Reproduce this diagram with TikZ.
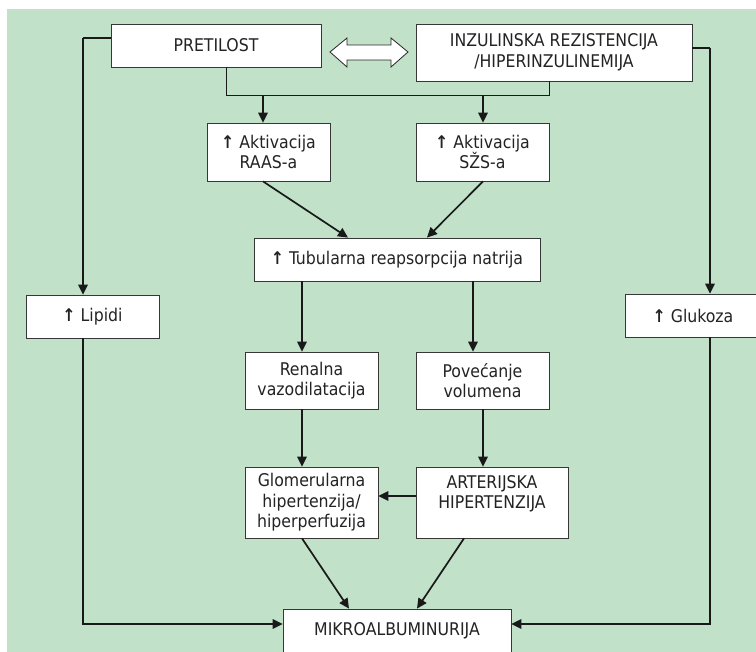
\documentclass[tikz,border=0pt]{standalone}
\usepackage{fontspec}
\setmainfont{DejaVu Sans Condensed}
\usetikzlibrary{arrows.meta}
\definecolor{bggreen}{RGB}{193,225,201}
\definecolor{boxc}{RGB}{55,55,55}
\definecolor{txt}{RGB}{35,35,35}
\newcommand\boxfont{\fontsize{17.5}{20.5}\selectfont}
\newcommand\uparr{{\bfseries ↑}}
\tikzset{
  box/.style={draw=boxc, line width=0.8pt, fill=white, inner sep=0pt, align=center, text=txt, font=\boxfont},
  arr/.style={draw=black!90, line width=1.7pt, -{Triangle[length=10pt,width=9.5pt]}},
  thick line/.style={draw=black!90, line width=1.7pt},
  thin line/.style={draw=black!90, line width=0.9pt}
}
\begin{document}
\begin{tikzpicture}[x=1pt,y=-1pt]
\clip (0,0) rectangle (756,652);
\useasboundingbox (0,0) rectangle (756,652);
\fill[white] (0,0) rectangle (756,652);
\fill[bggreen] (7,9) rectangle (760,660);

% nodes
\node[box, minimum width=210pt, minimum height=43pt] (pret) at (216,45.5) {PRETILOST};
\node[box, minimum width=276pt, minimum height=57pt] (inz) at (554,52.5) {INZULINSKA REZISTENCIJA\\/HIPERINZULINEMIJA};
\node[box, minimum width=123pt, minimum height=58pt] (raas) at (268.5,152) {\uparr\ Aktivacija\\RAAS-a};
\node[box, minimum width=133pt, minimum height=58pt] (szs) at (482.5,152) {\uparr\ Aktivacija\\SŽS-a};
\node[box, minimum width=286pt, minimum height=43pt] (tub) at (397,259.5) {\uparr\ Tubularna reapsorpcija natrija};
\node[box, minimum width=133pt, minimum height=43pt] (lip) at (92.5,316.5) {\uparr\ Lipidi};
\node[box, minimum width=136pt, minimum height=43pt] (glu) at (693,315.5) {\uparr\ Glukoza};
\node[box, minimum width=133pt, minimum height=57pt] (ren) at (311.5,380.5) {Renalna\\vazodilatacija};
\node[box, minimum width=133pt, minimum height=57pt] (pov) at (482.5,380.5) {Povećanje\\volumena};
\node[box, minimum width=133pt, minimum height=71pt] (glo) at (311.5,502.5) {Glomerularna\\hipertenzija/\\hiperperfuzija};
\node[box, minimum width=152pt, minimum height=71pt] (art) at (492,502.5) {ARTERIJSKA\\HIPERTENZIJA\\\mbox{}};
\node[box, minimum width=228pt, minimum height=61pt] (mik) at (397,639.5) {MIKROALBUMINURIJA\\\mbox{}};

% double arrow between PRETILOST and INZULINSKA
\filldraw[fill=white, draw=black!85, line width=0.8pt]
  (330,52) -- (347,38) -- (347,45) -- (391,45) -- (391,38) -- (408,52)
  -- (391,67) -- (391,60) -- (347,60) -- (347,67) -- cycle;

% coordinates for connector routes
\coordinate (lc) at (83,38);
\coordinate (rc) at (710,48);
\coordinate (jy) at (0,95);
\coordinate (my) at (0,624);
\coordinate (ja) at (263,95);
\coordinate (jb) at (483,95);

% left branch
\draw[thick line] (pret.west |- lc) -- (lc);
\draw[arr] (lc) -- (lc |- lip.north);
\draw[arr] (lc |- lip.south) |- (mik.west |- my);
% right branch
\draw[thick line] (inz.east |- rc) -- (rc);
\draw[arr] (rc) -- (rc |- glu.north);
\draw[arr] (rc |- glu.south) |- (mik.east |- my);

% junction line
\draw[thin line] (pret.south -| 226,0) |- (jy -| 549,0) -- (inz.south -| 549,0);
\draw[arr] (ja) -- (ja |- raas.north);
\draw[arr] (jb) -- (jb |- szs.north);

% to tubular
\draw[arr] (raas.south -| 263,0) -- (tub.north -| 348,0);
\draw[arr] (szs.south -| 483,0) -- (tub.north -| 427,0);

% tubular down
\draw[arr] (tub.south -| 302,0) -- (ren.north -| 302,0);
\draw[arr] (tub.south -| 473,0) -- (pov.north -| 473,0);

\draw[arr] (ren.south -| 302,0) -- (glo.north -| 302,0);
\draw[arr] (pov.south -| 483,0) -- (art.north -| 483,0);

\draw[arr] (art.west |- 0,496) -- (glo.east |- 0,496);

\draw[arr] (glo.south -| 302,0) -- (mik.north -| 349,0);
\draw[arr] (art.south -| 464,0) -- (mik.north -| 417,0);
\end{tikzpicture}
\end{document}
